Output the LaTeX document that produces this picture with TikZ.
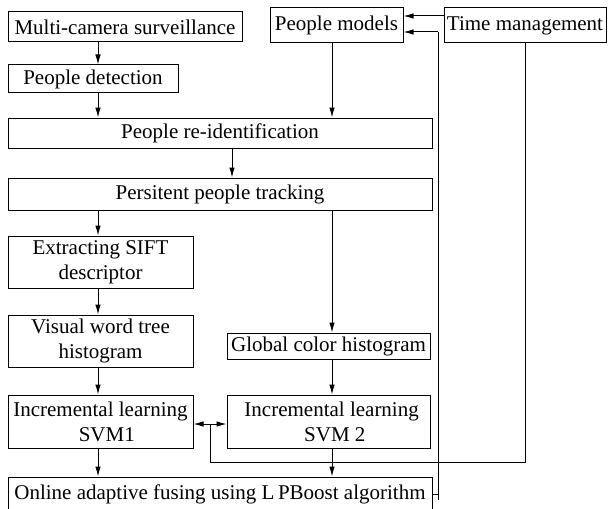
\documentclass[tikz,border=0pt]{standalone}
\usepackage{fontspec}
\setmainfont{Liberation Serif}
\usetikzlibrary{arrows.meta,calc}
\begin{document}
\begin{tikzpicture}[x=1pt,y=-1pt,
  box/.style={draw,line width=1pt,rectangle,inner sep=0pt,align=center,
    font=\fontsize{21}{25}\selectfont},
  arr/.style={line width=1pt,-{Latex[length=10pt,width=5.5pt]}},
  ln/.style={line width=1pt}]
\useasboundingbox (0,0) rectangle (609,508);
\node[box,minimum width=234pt,minimum height=30pt] (mc) at (125,27) {Multi-camera surveillance};
\node[box,minimum width=133pt,minimum height=35pt] (pm) at (336.5,25.5) {People models};
\node[box,minimum width=162pt,minimum height=35pt] (tm) at (525,25.5) {Time management};
\node[box,minimum width=170pt,minimum height=28pt] (pd) at (93,79) {People detection};
\node[box,minimum width=424pt,minimum height=30pt] (ri) at (220,133) {People re-identification};
\node[box,minimum width=424pt,minimum height=32pt] (pt) at (220,194) {Persitent people tracking};
\node[box,minimum width=185pt,minimum height=52pt] (sift) at (100.5,262) {Extracting SIFT\\descriptor};
\node[box,minimum width=185pt,minimum height=52pt] (vw) at (100.5,341) {Visual word tree\\histogram};
\node[box,minimum width=203pt,minimum height=26pt] (gc) at (328.5,346) {Global color histogram};
\node[box,minimum width=185pt,minimum height=53pt] (s1) at (100.5,421.5) {Incremental learning\\\hspace*{0.6em}SVM1};
\node[box,minimum width=203pt,minimum height=53pt] (s2) at (328.5,421.5) {\hspace*{0.3em}Incremental learning\\\hspace*{0.6em}SVM 2};
\node[box,minimum width=424pt,minimum height=35pt] (fu) at (220,494.5) {Online adaptive fusing using L\,PBoost algorithm};
\coordinate (ca) at (98,0);
\coordinate (cb) at (332,0);
\coordinate (cc) at (232,0);
\coordinate (cr) at (438,0);
\coordinate (cl) at (210,0);
% vertical flow arrows
\draw[arr] (ca |- mc.south) -- (ca |- pd.north);
\draw[arr] (ca |- pd.south) -- (ca |- ri.north);
\draw[arr] (cb |- pm.south) -- (cb |- ri.north);
\draw[arr] (cc |- ri.south) -- (cc |- pt.north);
\draw[arr] (ca |- pt.south) -- (ca |- sift.north);
\draw[arr] (cb |- pt.south) -- (cb |- gc.north);
\draw[arr] (ca |- sift.south) -- (ca |- vw.north);
\draw[arr] (ca |- vw.south) -- (ca |- s1.north);
\draw[arr] (cb |- gc.south) -- (cb |- s2.north);
\draw[arr] (ca |- s1.south) -- (ca |- fu.north);
\draw[arr] (cb |- s2.south) -- (cb |- fu.north);
% bidirectional
\coordinate (bd) at (0,424);
\draw[ln,{Latex[length=10pt,width=5.5pt]}-{Latex[length=10pt,width=5.5pt]}] (s1.east |- bd) -- (s2.west |- bd);
% time management feedback
\coordinate (tb) at (0,462);
\coordinate (tt) at (0,16);
\draw[ln] (tm.south) -- (tm.south |- tb) -- (cl |- tb) -- (cl |- bd);
\draw[arr] (tm.west |- tt) -- (pm.east |- tt);
% fusion feedback
\coordinate (ft) at (0,32);
\coordinate (fb) at (0,500);
\draw[ln] (fu.east) -- (cr |- fu.east);
\draw[ln] (cr |- fb) -- (cr |- ft);
\draw[arr] (cr |- ft) -- (pm.east |- ft);
\end{tikzpicture}
\end{document}
